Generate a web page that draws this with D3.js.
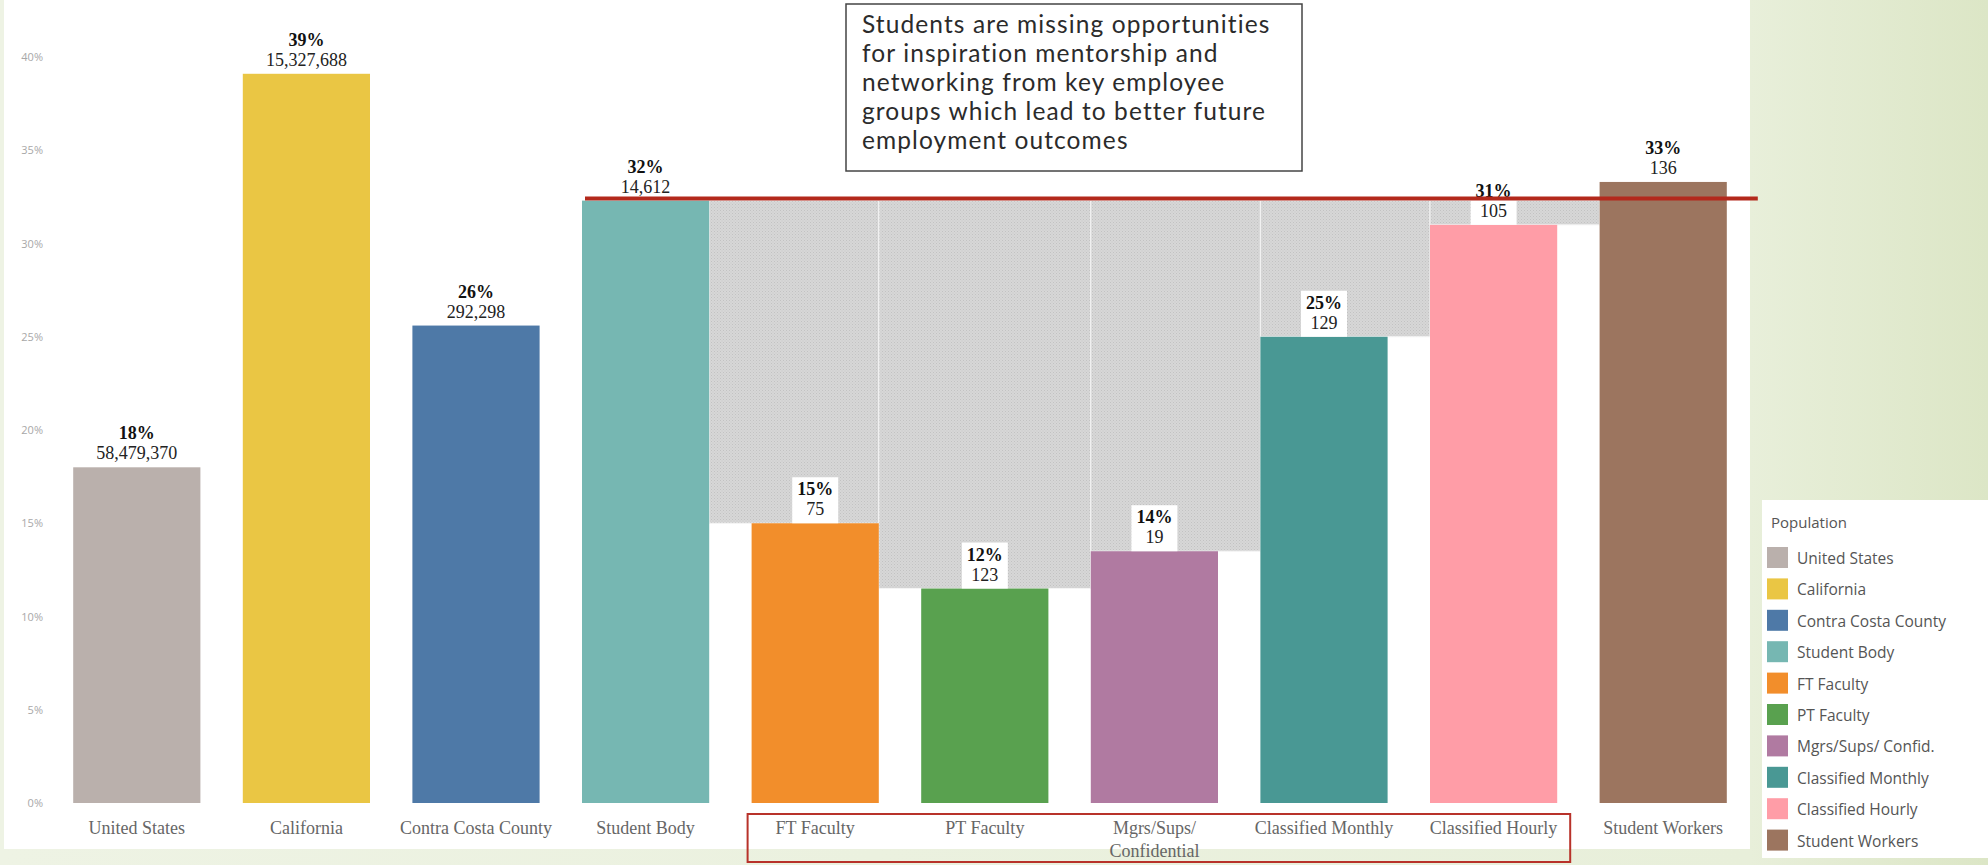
<!DOCTYPE html>
<html>
<head>
<meta charset="utf-8">
<script src="https://cdn.jsdelivr.net/npm/d3@7"></script>
<style>
  body { margin: 0; background: #ffffff; }
  svg { display: block; }
</style>
</head>
<body>
<svg id="chart" width="1988" height="865"></svg>
<script>
// Share of each population group, with the headcount shown under the percentage
const categories = ["United States", "California", "Contra Costa County", "Student Body", "FT Faculty",
  "PT Faculty", "Mgrs/Sups/ Confidential", "Classified Monthly", "Classified Hourly", "Student Workers"];
const axisLabels = [["United States"], ["California"], ["Contra Costa County"], ["Student Body"], ["FT Faculty"],
  ["PT Faculty"], ["Mgrs/Sups/", "Confidential"], ["Classified Monthly"], ["Classified Hourly"], ["Student Workers"]];
const legendLabels = ["United States", "California", "Contra Costa County", "Student Body", "FT Faculty",
  "PT Faculty", "Mgrs/Sups/ Confid.", "Classified Monthly", "Classified Hourly", "Student Workers"];
const shares = [18.0, 39.1, 25.6, 32.3, 15.0, 11.5, 13.5, 25.0, 31.0, 33.3];
const headcounts = ["58,479,370", "15,327,688", "292,298", "14,612", "75", "123", "19", "129", "105", "136"];
const colors = ["#bab0ac", "#eac644", "#4e79a7", "#76b7b2", "#f28e2b", "#59a14f", "#b07aa1", "#499894", "#ff9da7", "#9c755f"];
const yTicks = [0, 5, 10, 15, 20, 25, 30, 35, 40];
const benchmark = "Student Body";
// Employee groups whose gap to the student body is shaded: [group, from edge, to edge]  (0 = left, 1 = right)
const gapGroups = ["FT Faculty", "PT Faculty", "Mgrs/Sups/ Confidential", "Classified Monthly", "Classified Hourly"];
const gapFrom = [["Student Body", 1], ["FT Faculty", 1], ["Mgrs/Sups/ Confidential", 0], ["Classified Monthly", 0], ["Classified Hourly", 0]];
const gapTo = [["FT Faculty", 1], ["Mgrs/Sups/ Confidential", 0], ["Classified Monthly", 0], ["Classified Hourly", 0], ["Student Workers", 0]];
const highlighted = ["FT Faculty", "PT Faculty", "Mgrs/Sups/ Confidential", "Classified Monthly", "Classified Hourly"];
const noteLines = ["Students are missing opportunities", "for inspiration mentorship and",
  "networking from key employee", "groups which lead to better future", "employment outcomes"];
const legendTitle = "Population";

const svg = d3.select("#chart");
const W = 1988, H = 865;

// Page backdrop: soft green frame around the white chart panel
const defs = svg.append("defs");
const bg = defs.append("linearGradient").attr("id", "bgGrad").attr("x1", 0).attr("x2", 1).attr("y1", 0).attr("y2", 0);
bg.append("stop").attr("offset", "0%").attr("stop-color", "#eef3e4");
bg.append("stop").attr("offset", "88%").attr("stop-color", "#e8efda");
bg.append("stop").attr("offset", "100%").attr("stop-color", "#dce6c6");
svg.append("rect").attr("width", W).attr("height", H).attr("fill", "url(#bgGrad)");
svg.append("rect").attr("x", 4).attr("y", 0).attr("width", 1746).attr("height", 849).attr("fill", "#ffffff");

// Fine dotted texture for the shaded gaps
const pat = defs.append("pattern").attr("id", "gapDots").attr("patternUnits", "userSpaceOnUse")
  .attr("width", 3).attr("height", 3);
pat.append("rect").attr("width", 3).attr("height", 3).attr("fill", "#d7d7d7");
pat.append("rect").attr("x", 0).attr("y", 0).attr("width", 1).attr("height", 1).attr("fill", "#c2c2c2");
pat.append("rect").attr("x", 1.5).attr("y", 1.5).attr("width", 1).attr("height", 1).attr("fill", "#c9c9c9");

const x = d3.scaleBand().domain(categories).range([52, 1748]).paddingInner(0.25).paddingOuter(0.125);
const y = d3.scaleLinear().domain([0, 40]).range([803, 57]);
const color = d3.scaleOrdinal().domain(categories).range(colors);
const share = new Map(categories.map((c, i) => [c, shares[i]]));
const edge = ([c, side]) => x(c) + side * x.bandwidth();

// Y axis: percent labels only
const yAxis = svg.append("g").attr("transform", "translate(45,0)")
  .call(d3.axisLeft(y).tickValues(yTicks).tickFormat(d => d + "%").tickSize(0).tickPadding(2));
yAxis.select(".domain").remove();
yAxis.selectAll("text").attr("font-family", "'Open Sans', sans-serif").attr("font-size", 11).attr("fill", "#a8a8a8");

// Shaded gap between each employee group and the student body share
const benchY = y(share.get(benchmark));
svg.append("g").selectAll("rect").data(gapGroups).join("rect")
  .attr("x", (d, i) => edge(gapFrom[i]))
  .attr("width", (d, i) => edge(gapTo[i]) - edge(gapFrom[i]))
  .attr("y", benchY)
  .attr("height", d => y(share.get(d)) - benchY)
  .attr("fill", "url(#gapDots)")
  .attr("stroke", "#f4f4f4").attr("stroke-width", 1);

// Bars
svg.append("g").selectAll("rect").data(categories).join("rect")
  .attr("x", d => x(d)).attr("width", x.bandwidth())
  .attr("y", d => y(share.get(d)))
  .attr("height", d => y(0) - y(share.get(d)))
  .attr("fill", d => color(d));

// Value labels: bold percentage over the headcount
const labels = svg.append("g").selectAll("g").data(categories).join("g")
  .attr("transform", d => `translate(${x(d) + x.bandwidth() / 2},${y(share.get(d))})`);
labels.each(function (d, i) {
  const g = d3.select(this);
  const pct = Math.round(share.get(d)) + "%";
  const boxed = gapGroups.includes(d);
  const box = g.append("rect").attr("fill", "#ffffff");
  const t1 = g.append("text").attr("y", -28).attr("text-anchor", "middle")
    .attr("font-family", "'Liberation Serif', serif").attr("font-weight", "bold").attr("font-size", 18)
    .attr("fill", "#111").text(pct);
  const t2 = g.append("text").attr("y", -8).attr("text-anchor", "middle")
    .attr("font-family", "'Liberation Serif', serif").attr("font-size", 18)
    .attr("fill", "#222").text(headcounts[i]);
  if (boxed) {
    const w = Math.max(t1.node().getBBox().width, t2.node().getBBox().width) + 10;
    box.attr("x", -w / 2).attr("width", w).attr("y", -46).attr("height", 46);
  } else {
    box.remove();
  }
});

// Category labels under the bars
const xl = svg.append("g").selectAll("text").data(categories).join("text")
  .attr("x", d => x(d) + x.bandwidth() / 2).attr("y", 834)
  .attr("text-anchor", "middle")
  .attr("font-family", "'Liberation Serif', serif").attr("font-size", 18).attr("fill", "#666");
xl.each(function (d, i) {
  d3.select(this).selectAll("tspan").data(axisLabels[i]).join("tspan")
    .attr("x", x(d) + x.bandwidth() / 2).attr("dy", (t, j) => j === 0 ? 0 : 23).text(t => t);
});

// Frame around the employee groups
const hx0 = x(highlighted[0]) - 4;
const hx1 = x(highlighted[highlighted.length - 1]) + x.bandwidth() + 13;
svg.append("rect").attr("x", hx0).attr("y", 814).attr("width", hx1 - hx0).attr("height", 48)
  .attr("fill", "none").attr("stroke", "#b8322a").attr("stroke-width", 2);

// Student body benchmark line
svg.append("line")
  .attr("x1", x(benchmark) + 3).attr("x2", x(categories[categories.length - 1]) + x.bandwidth() + 31)
  .attr("y1", benchY - 2).attr("y2", benchY - 2)
  .attr("stroke", "#b3291c").attr("stroke-width", 4);

// Annotation box
svg.append("rect").attr("x", 846).attr("y", 4).attr("width", 456).attr("height", 167)
  .attr("fill", "#ffffff").attr("stroke", "#444").attr("stroke-width", 1.5);
svg.append("g").selectAll("text").data(noteLines).join("text")
  .attr("x", 862).attr("y", (d, i) => 33 + i * 29)
  .attr("font-family", "Lato, sans-serif").attr("font-size", 24.5).attr("letter-spacing", 1.1)
  .attr("fill", "#2b2b2b")
  .text(d => d);

// Legend
const lg = svg.append("g");
lg.append("rect").attr("x", 1762).attr("y", 500).attr("width", 226).attr("height", 358).attr("fill", "#ffffff");
lg.append("text").attr("x", 1771).attr("y", 528).attr("font-family", "'Open Sans', sans-serif")
  .attr("font-size", 15).attr("fill", "#555").text(legendTitle);
const items = lg.selectAll("g.item").data(categories).join("g").attr("class", "item")
  .attr("transform", (d, i) => `translate(1767,${558 + i * 31.4})`);
items.append("rect").attr("x", 0).attr("y", -11).attr("width", 21).attr("height", 21).attr("fill", d => color(d));
items.append("text").attr("x", 30).attr("y", 6).attr("font-family", "'Open Sans', sans-serif")
  .attr("font-size", 15.5).attr("fill", "#555").text((d, i) => legendLabels[i]);
</script>
</body>
</html>
